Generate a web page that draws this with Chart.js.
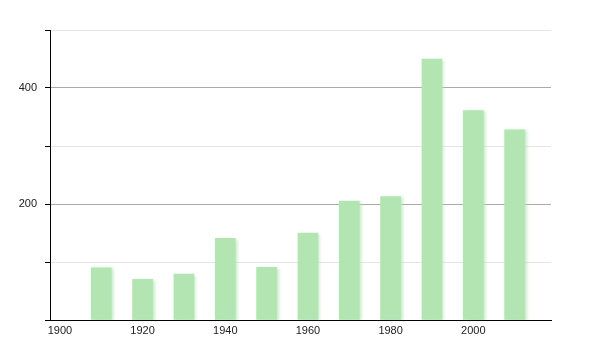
<!DOCTYPE html>
<html>
<head>
<meta charset="utf-8">
<script src="https://cdn.jsdelivr.net/npm/chart.js@4/dist/chart.umd.min.js"></script>
<style>
html,body{margin:0;padding:0;background:#fff;}
#wrap{width:600px;height:350px;}
</style>
</head>
<body>
<div id="wrap"><canvas id="c" width="600" height="350"></canvas></div>
<script>
const years = [1910, 1920, 1930, 1940, 1950, 1960, 1970, 1980, 1990, 2000, 2010];
const population = [90, 70, 79, 141, 91, 150, 205, 213, 450, 361, 328];
const xTickYears = [1900, 1920, 1940, 1960, 1980, 2000];
const yLabelled = [200, 400];

const barShadow = {
  id: 'barShadow',
  beforeDatasetsDraw(chart) {
    const ctx = chart.ctx;
    ctx.save();
    ctx.shadowColor = 'rgba(175,228,175,0.7)';
    ctx.shadowBlur = 3;
    ctx.shadowOffsetX = 2;
    ctx.shadowOffsetY = 1;
  },
  afterDatasetsDraw(chart) {
    chart.ctx.restore();
  }
};

new Chart(document.getElementById('c'), {
  type: 'bar',
  data: {
    datasets: [{
      data: years.map((y, i) => ({x: y, y: population[i]})),
      backgroundColor: '#b3e5b3',
      borderWidth: 0,
      barThickness: 20
    }]
  },
  options: {
    responsive: false,
    animation: false,
    layout: {padding: {top: 30, right: 49, left: 0, bottom: 0}},
    plugins: {legend: {display: false}, tooltip: {enabled: false}},
    scales: {
      x: {
        type: 'linear',
        min: 1897.6,
        max: 2018.8,
        offset: false,
        afterFit(s) { s.height = 30; },
        afterBuildTicks(s) { s.ticks = xTickYears.map(v => ({value: v})); },
        grid: {display: true, drawOnChartArea: false, drawTicks: false},
        border: {color: '#000', width: 1},
        ticks: {
          padding: 4,
          color: '#222',
          font: {family: 'Liberation Sans, Arial, sans-serif', size: 11},
          maxRotation: 0,
          autoSkip: false,
          callback: v => String(v)
        }
      },
      y: {
        min: 0,
        max: 500,
        afterFit(s) { s.width = 50; },
        ticks: {
          stepSize: 100,
          padding: 8,
          color: '#222',
          font: {family: 'Liberation Sans, Arial, sans-serif', size: 11},
          callback: v => yLabelled.includes(v) ? String(v) : ''
        },
        grid: {
          color: ctx => (ctx.tick && ctx.tick.value % 200 === 0) ? '#aaaaaa' : '#e6e6e6',
          tickColor: '#000',
          tickLength: 5
        },
        border: {color: '#000', width: 1}
      }
    }
  },
  plugins: [barShadow]
});
</script>
</body>
</html>
